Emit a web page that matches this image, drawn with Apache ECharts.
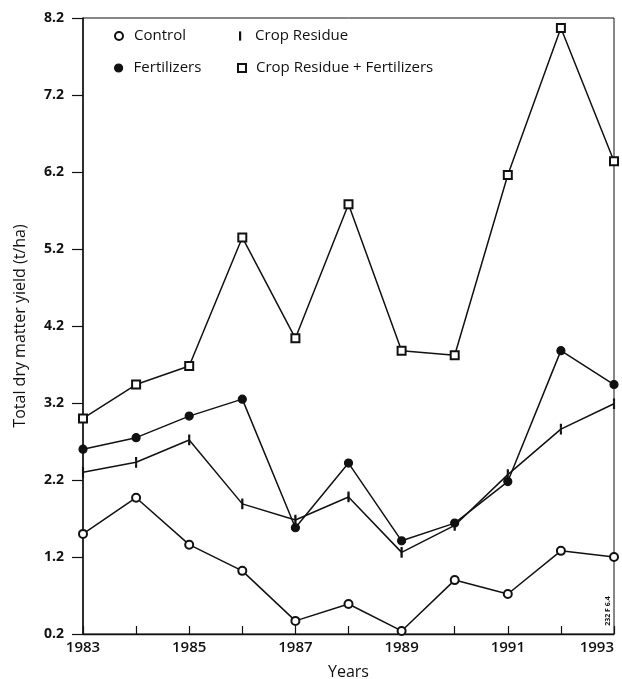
<!DOCTYPE html>
<html>
<head>
<meta charset="utf-8">
<script src="https://cdn.jsdelivr.net/npm/echarts@6/dist/echarts.min.js"></script>
<style>
  html, body { margin: 0; padding: 0; background: #fff; }
  #chart { width: 622px; height: 679px; }
</style>
</head>
<body>
<div id="chart"></div>
<script>
// Total dry matter yield (t/ha) by year and treatment
const years = [1983, 1984, 1985, 1986, 1987, 1988, 1989, 1990, 1991, 1992, 1993];
const control = [1.50, 1.97, 1.36, 1.02, 0.37, 0.59, 0.24, 0.90, 0.72, 1.28, 1.20];
const cropResidue = [2.30, 2.43, 2.72, 1.89, 1.68, 1.98, 1.26, 1.61, 2.27, 2.86, 3.19];
const fertilizers = [2.60, 2.75, 3.03, 3.25, 1.58, 2.42, 1.41, 1.64, 2.18, 3.88, 3.44];
const residuePlusFertilizers = [3.00, 3.44, 3.68, 5.35, 4.04, 5.78, 3.88, 3.82, 6.16, 8.07, 6.34];

// Axis ticks and labels
const yTicks = [0.2, 1.2, 2.2, 3.2, 4.2, 5.2, 6.2, 7.2, 8.2];
const xLabelYears = [1983, 1985, 1987, 1989, 1991, 1993];

const FONT = '"Open Sans", "Noto Sans", sans-serif';
const INK = '#111';
const tickMark = 'path://M0,0 L1,0 L1,8 L0,8 Z';

const pairs = arr => years.map((y, i) => [y, arr[i]]);

const seriesDefs = [
  { name: 'Control', data: control, symbol: 'emptyCircle', size: 8 },
  { name: 'Crop Residue', data: cropResidue, symbol: tickMark, size: [1.6, 8] },
  { name: 'Fertilizers', data: fertilizers, symbol: 'circle', size: 8 },
  { name: 'Crop Residue + Fertilizers', data: residuePlusFertilizers, symbol: 'emptyRect', size: 8 }
];

// Two-column legend block inside the plot
const legendLayout = {
  'Control':                    { left: 114, top: 28, icon: 'emptyCircle', w: 8, pad: 6 },
  'Fertilizers':                { left: 114, top: 60, icon: 'circle',      w: 8, pad: 6 },
  'Crop Residue':               { left: 239, top: 28, icon: tickMark,      w: 2, pad: 9 },
  'Crop Residue + Fertilizers': { left: 237, top: 60, icon: 'emptyRect',   w: 8, pad: 5 }
};

const chart = echarts.init(document.getElementById('chart'), null, { renderer: 'canvas' });

chart.setOption({
  animation: false,
  backgroundColor: '#fff',
  grid: {
    left: 83, right: 8, top: 18, bottom: 45,
    outerBoundsMode: 'none',
    containLabel: false,
    show: true, borderColor: INK, borderWidth: 1, backgroundColor: 'transparent'
  },
  legend: seriesDefs.map(s => {
    const L = legendLayout[s.name];
    return {
      data: [{ name: s.name, icon: L.icon }],
      left: L.left,
      top: L.top,
      itemWidth: L.w,
      itemHeight: 8,
      selectedMode: false,
      padding: 0,
      textStyle: {
        fontFamily: FONT, fontSize: 15, fontWeight: 500, color: INK,
        lineHeight: 16,
        padding: [0, 0, 0, L.pad]
      },
      itemStyle: { borderColor: INK, borderWidth: 1.2 }
    };
  }),
  xAxis: {
    type: 'value',
    min: 1983, max: 1993, interval: 1,
    name: 'Years',
    nameLocation: 'middle',
    nameGap: 30,
    nameTextStyle: { fontFamily: FONT, fontSize: 16, fontWeight: 500, color: INK },
    splitLine: { show: false },
    axisLine: { lineStyle: { color: INK, width: 1.4 } },
    axisTick: { inside: true, length: 8, lineStyle: { color: INK, width: 1.2 } },
    axisLabel: {
      customValues: xLabelYears,
      formatter: v => String(v),
      margin: 6,
      alignMaxLabel: 'right',
      fontFamily: FONT, fontSize: 15, color: INK, fontWeight: 600
    }
  },
  yAxis: {
    type: 'value',
    min: 0.2, max: 8.2,
    name: 'Total dry matter yield (t/ha)',
    nameLocation: 'middle',
    nameGap: 55,
    nameTextStyle: { fontFamily: FONT, fontSize: 16, fontWeight: 500, color: INK },
    splitLine: { show: false },
    axisLine: { lineStyle: { color: INK, width: 1.5 } },
    axisTick: { customValues: yTicks, inside: false, length: 11, lineStyle: { color: INK, width: 1.2 } },
    axisLabel: {
      customValues: yTicks,
      formatter: v => v.toFixed(1),
      margin: 19,
      fontFamily: FONT, fontSize: 14, color: INK, fontWeight: 700
    }
  },
  graphic: [{
    type: 'text',
    x: 608, y: 611,
    rotation: Math.PI / 2,
    style: {
      text: '232 F 6.4',
      font: 'bold 7px ' + FONT,
      fill: INK,
      align: 'center',
      verticalAlign: 'middle'
    }
  }],
  series: seriesDefs.map(s => ({
    name: s.name,
    type: 'line',
    data: pairs(s.data),
    symbol: s.symbol,
    symbolSize: s.size,
    showAllSymbol: true,
    color: INK,
    lineStyle: { color: INK, width: 1.5 },
    itemStyle: { color: INK, borderColor: INK, borderWidth: 1.2 },
    emphasis: { disabled: true }
  }))
});
</script>
</body>
</html>
